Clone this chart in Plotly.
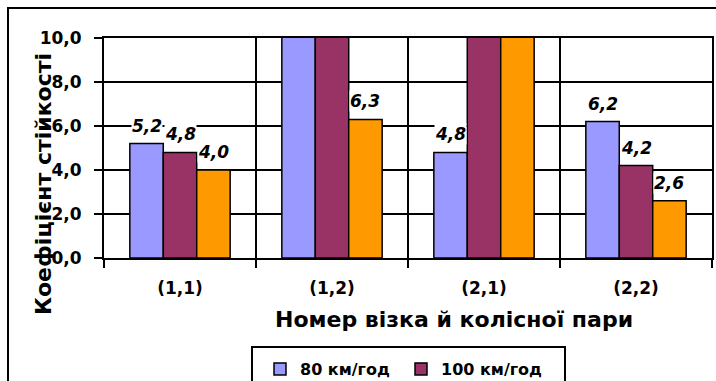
import plotly.graph_objects as go

# Wheelset positions: (bogie, wheelset)
categories = ["(1,1)", "(1,2)", "(2,1)", "(2,2)"]
series_names = ["80 км/год", "100 км/год", "120 км/год"]
# Stability coefficient per speed; values above 10 run off the top of the axis
k_80 = [5.2, 12.4, 4.8, 6.2]
k_100 = [4.8, 11.7, 13.1, 4.2]
k_120 = [4.0, 6.3, 10.9, 2.6]
series_values = [k_80, k_100, k_120]
series_colors = ["#9999FF", "#993366", "#FF9900"]
# only the first legend row (two entries) fits inside the frame
series_in_legend = [True, True, False]
y_ticks = [0, 2, 4, 6, 8, 10]
y_max = 10

FONT = "DejaVu Sans"
BAR_GAP = 0.34

# plot area in pixels: x 104..712, y 38..258
PL, PW, PT, PH = 104, 608, 38, 220


def px_x(p):
    return (p - PL) / PW


def px_y(p):
    return (PT + PH - p) / PH


fig = go.Figure()
for name, vals, color, shown in zip(series_names, series_values, series_colors, series_in_legend):
    fig.add_trace(go.Bar(
        x=categories, y=vals, name=name, showlegend=shown,
        marker=dict(color=color, line=dict(color="black", width=1.5)),
        hoverinfo="skip",
    ))

# value labels above each bar (only those inside the axis range are visible)
n = len(series_values)
slot = (1 - BAR_GAP) / n
annotations = []
for i, vals in enumerate(series_values):
    for j, v in enumerate(vals):
        if v > y_max:
            continue
        annotations.append(dict(
            x=j + (i - (n - 1) / 2) * slot, y=v, xref="x", yref="y",
            text=f"{v:.1f}".replace(".", ","), showarrow=False,
            yanchor="bottom", yshift=7, bgcolor="white", borderpad=0,
            font=dict(family=FONT, size=17, color="black", weight="bold", style="italic"),
        ))

annotations.append(dict(
    text="Коефіцієнт стійкості", textangle=-90, showarrow=False,
    xref="paper", yref="paper", x=px_x(43), y=px_y(184), xanchor="center", yanchor="middle",
    font=dict(family=FONT, size=22, color="black", weight="bold"),
))
annotations.append(dict(
    text="Номер візка й колісної пари", showarrow=False,
    xref="paper", yref="paper", x=px_x(454), y=px_y(319), xanchor="center", yanchor="middle",
    font=dict(family=FONT, size=22, color="black", weight="bold"),
))

legend_font = dict(family=FONT, size=16, color="black", weight="bold")

fig.update_layout(
    width=716, height=381,
    margin=dict(l=PL, r=716 - PL - PW, t=PT, b=381 - PT - PH, autoexpand=False),
    paper_bgcolor="white", plot_bgcolor="white",
    separators=", ",
    barmode="group", bargap=BAR_GAP, bargroupgap=0,
    annotations=annotations,
    showlegend=True,
    legend=dict(
        orientation="h", entrywidth=96, entrywidthmode="pixels",
        x=px_x(260), xanchor="left", y=px_y(352), yanchor="top",
        borderwidth=0, bgcolor="rgba(0,0,0,0)", font=legend_font,
    ),
    shapes=[
        # chart frame
        dict(type="rect", xref="paper", yref="paper",
             x0=px_x(8), x1=1.2, y0=-1.0, y1=px_y(8),
             line=dict(color="black", width=2), fillcolor="rgba(0,0,0,0)"),
        # legend frame
        dict(type="rect", xref="paper", yref="paper",
             x0=px_x(252), x1=px_x(565), y0=-1.0, y1=px_y(347),
             line=dict(color="black", width=2), fillcolor="rgba(0,0,0,0)"),
    ],
)

fig.update_xaxes(
    type="category", categoryorder="array", categoryarray=categories,
    tickson="boundaries", ticks="outside", ticklen=8, tickwidth=2, tickcolor="black",
    showgrid=True, gridcolor="black", gridwidth=2,
    showline=True, linecolor="black", linewidth=2, mirror=True,
    tickfont=dict(family=FONT, size=17, color="black", weight="bold"),
    ticklabelstandoff=14,
)
fig.update_yaxes(
    range=[0, y_max], tickvals=y_ticks, tickformat=".1f",
    ticks="outside", ticklen=8, tickwidth=2, tickcolor="black",
    showgrid=True, gridcolor="black", gridwidth=2,
    showline=True, linecolor="black", linewidth=2, mirror=True,
    zeroline=False,
    tickfont=dict(family=FONT, size=17, color="black", weight="bold"),
    ticklabelstandoff=9,
)

fig.write_html("out.html")
